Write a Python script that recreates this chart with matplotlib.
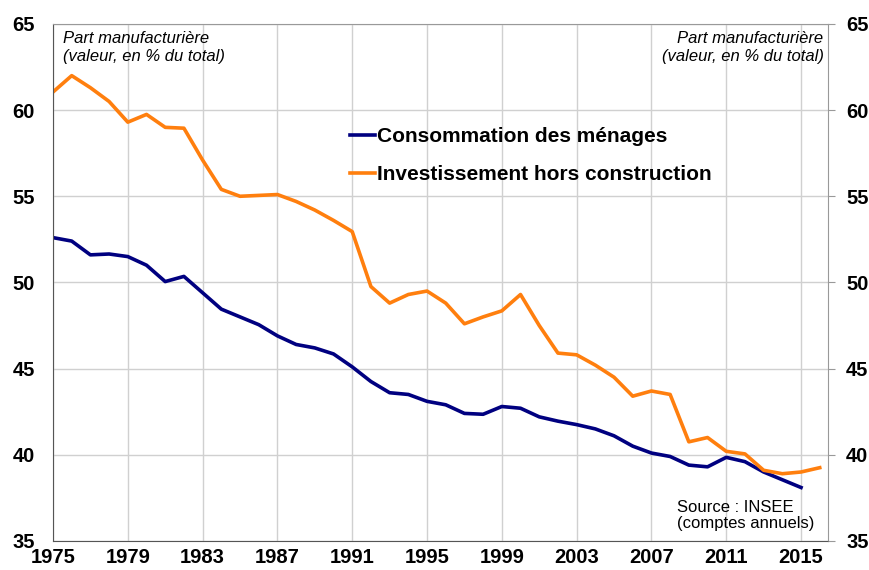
import matplotlib.pyplot as plt
import numpy as np

plt.rcParams['font.family'] = ['Liberation Sans', 'DejaVu Sans']

years = np.arange(1975, 2017)

# Consommation des ménages (1975-2015)
conso = [52.6, 52.4, 51.6, 51.65, 51.5, 51.0, 50.05, 50.35, 49.4, 48.45,
         48.0, 47.55, 46.9, 46.4, 46.2, 45.85, 45.1, 44.25, 43.6, 43.5,
         43.1, 42.9, 42.4, 42.35, 42.8, 42.7, 42.2, 41.95, 41.75, 41.5,
         41.1, 40.5, 40.1, 39.9, 39.4, 39.3, 39.85, 39.6, 39.0, 38.55,
         38.1]

# Investissement hors construction (1975-2016)
invest = [61.05, 62.0, 61.3, 60.5, 59.3, 59.75, 59.0, 58.95, 57.1, 55.4,
          55.0, 55.05, 55.1, 54.7, 54.2, 53.6, 52.95, 49.76, 48.8, 49.3,
          49.5, 48.8, 47.6, 48.0, 48.35, 49.3, 47.5, 45.9, 45.8, 45.2,
          44.5, 43.4, 43.7, 43.5, 40.75, 41.0, 40.2, 40.05, 39.1, 38.9,
          39.0, 39.25]

xticks = np.arange(1975, 2016, 4)
yticks = np.arange(35, 66, 5)

fig = plt.figure(figsize=(8.69, 5.70), dpi=100)
ax = fig.add_axes([0.061, 0.051, 0.892, 0.907])

ax.plot(years[:len(conso)], conso, color='#000080', lw=2.6,
        label='Consommation des ménages')
ax.plot(years[:len(invest)], invest, color='#FF7F0E', lw=2.6,
        label='Investissement hors construction')

ax.set_xlim(1975, 2016.45)
ax.set_ylim(35, 65)
ax.set_xticks(xticks)
ax.set_yticks(yticks)
ax.grid(True, color='#d0d0d0', lw=1)
ax.set_axisbelow(True)
ax.tick_params(axis='both', length=0, labelsize=14.5)
ax.tick_params(axis='y', pad=13)
ax.tick_params(axis='x', pad=5)
for lab in ax.get_xticklabels() + ax.get_yticklabels():
    lab.set_fontweight('bold')

ax.spines['left'].set_color('#555555')
ax.spines['bottom'].set_color('#555555')
ax.spines['top'].set_color('#999999')
ax.spines['right'].set_color('#999999')

ax2 = ax.twinx()
ax2.set_ylim(35, 65)
ax2.set_yticks(yticks)
ax2.tick_params(axis='y', length=5, color='#999999', labelsize=14.5, pad=8)
for lab in ax2.get_yticklabels():
    lab.set_fontweight('bold')
for s in ax2.spines.values():
    s.set_visible(False)

note = 'Part manufacturière\n(valeur, en % du total)'
ax.text(0.013, 0.986, note, transform=ax.transAxes, ha='left', va='top',
        fontsize=12, style='italic', linespacing=1.25)
ax.text(0.994, 0.986, note, transform=ax.transAxes, ha='right', va='top',
        fontsize=12, style='italic', linespacing=1.25)
ax.text(0.805, 0.02, 'Source : INSEE\n(comptes annuels)', transform=ax.transAxes,
        ha='left', va='bottom', fontsize=12, linespacing=1.05)

leg = ax.legend(loc='upper left', bbox_to_anchor=(0.383, 0.80), frameon=False,
                borderpad=0, borderaxespad=0,
                handlelength=1.2, handletextpad=0.12, labelspacing=0.9,
                prop={'size': 15, 'weight': 'bold'})

fig.savefig('out.png', dpi=100)
